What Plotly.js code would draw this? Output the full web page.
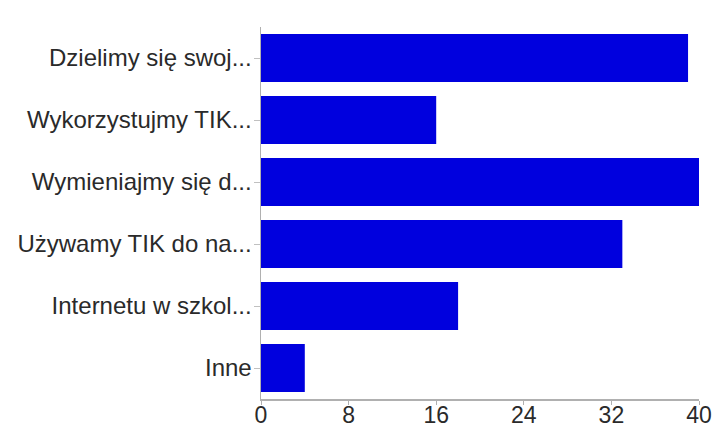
<!DOCTYPE html>
<html>
<head>
<meta charset="utf-8">
<script src="https://cdn.plot.ly/plotly-3.0.1.min.js"></script>
<style>html,body{margin:0;padding:0;background:#fff;}#chart{width:715px;height:429px;}</style>
</head>
<body>
<div id="chart"></div>
<script>
const categories = [
  "Dzielimy się swoj...",
  "Wykorzystujmy TIK...",
  "Wymieniajmy się d...",
  "Używamy TIK do na...",
  "Internetu w szkol...",
  "Inne"
];
const counts = [39, 16, 40, 33, 18, 4];
const tickValues = [0, 8, 16, 24, 32, 40];

const trace = {
  type: 'bar',
  orientation: 'h',
  x: counts,
  y: categories,
  marker: {color: 'rgb(0,0,222)'},
  hoverinfo: 'x+y'
};

const layout = {
  width: 715,
  height: 429,
  margin: {l: 261, r: 16, t: 27, b: 30, pad: 0},
  paper_bgcolor: '#fff',
  plot_bgcolor: '#fff',
  bargap: 0.226,
  showlegend: false,
  font: {family: 'Liberation Sans, Arial, sans-serif', size: 22, color: '#2a2a2a'},
  xaxis: {
    range: [0, 40],
    autorange: false,
    tickvals: tickValues,
    ticktext: tickValues.map(String),
    showgrid: false,
    zeroline: false,
    showline: true,
    linecolor: '#b0b0b0',
    linewidth: 1.5,
    ticks: 'outside',
    ticklen: 4,
    tickcolor: '#b0b0b0',
    ticklabelstandoff: -9,
    tickfont: {size: 23, color: '#2a2a2a'}
  },
  yaxis: {
    autorange: 'reversed',
    showgrid: false,
    zeroline: false,
    showline: true,
    linecolor: '#b0b0b0',
    linewidth: 1.5,
    ticks: 'outside',
    ticklen: 6,
    tickcolor: '#c0c0c0',
    ticklabelstandoff: -3,
    tickfont: {size: 24, color: '#2a2a2a'}
  }
};

Plotly.newPlot('chart', [trace], layout, {displayModeBar: false, staticPlot: true});
</script>
</body>
</html>
